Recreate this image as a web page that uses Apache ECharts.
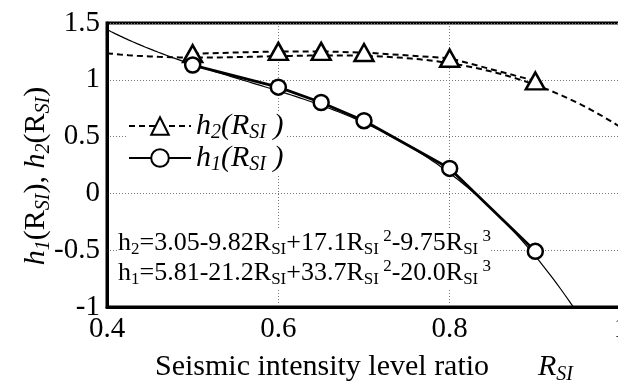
<!DOCTYPE html>
<html>
<head>
<meta charset="utf-8">
<script src="https://cdn.jsdelivr.net/npm/echarts@6/dist/echarts.min.js"></script>
<style>
  html, body { margin: 0; padding: 0; background: #fff; }
  #chart { width: 618px; height: 385px; }
</style>
</head>
<body>
<div id="chart"></div>
<script>
// Measured ratios and the two response functions
const ratios = [0.5, 0.6, 0.65, 0.7, 0.8, 0.9];
const h2Values = [1.23, 1.25, 1.25, 1.24, 1.19, 0.99];
const h1Values = [1.13, 0.935, 0.80, 0.64, 0.22, -0.51];

// Cubic fits (constant, R, R^2, R^3), as printed on the chart
const h2Coef = [3.05, -9.82, 17.1, -9.75];
const h1Coef = [5.81, -21.2, 33.7, -20.0];

// Axis ranges
const xRange = [0.4, 1.0];
const yRange = [-1, 1.5];

const serif = '"Liberation Serif", "Times New Roman", serif';

function cubic(c, r) { return c[0] + c[1] * r + c[2] * r * r + c[3] * r * r * r; }
function fitLine(c) {
  const pts = [];
  for (let i = 0; i <= 120; i++) {
    const r = xRange[0] + (xRange[1] - xRange[0]) * i / 120;
    pts.push([r, cubic(c, r)]);
  }
  return pts;
}
function pairs(xs, ys) { return xs.map((x, i) => [x, ys[i]]); }

const chart = echarts.init(document.getElementById('chart'), null, { renderer: 'canvas' });

const legendRich = {
  it: { fontFamily: serif, fontStyle: 'italic', fontSize: 30, lineHeight: 34, verticalAlign: 'middle', color: '#000' },
  sub: { fontFamily: serif, fontStyle: 'italic', fontSize: 20, lineHeight: 22, verticalAlign: 'bottom', color: '#000' }
};

const eqRich = {
  t: { fontFamily: serif, fontSize: 26, lineHeight: 30, verticalAlign: 'middle', color: '#000' },
  sub: { fontFamily: serif, fontSize: 17, lineHeight: 17, verticalAlign: 'bottom', color: '#000' },
  sup: { fontFamily: serif, fontSize: 17, lineHeight: 17, verticalAlign: 'top', color: '#000' }
};

const nameRich = {
  it: { fontFamily: serif, fontStyle: 'italic', fontSize: 30, lineHeight: 36, verticalAlign: 'middle', color: '#000' },
  rm: { fontFamily: serif, fontSize: 30, lineHeight: 36, verticalAlign: 'middle', color: '#000' },
  sub: { fontFamily: serif, fontStyle: 'italic', fontSize: 20, lineHeight: 22, verticalAlign: 'bottom', color: '#000' }
};

const option = {
  animation: false,
  backgroundColor: '#fff',
  grid: {
    left: 107, top: 23, width: 514, height: 284,
    outerBoundsMode: 'none', containLabel: false,
    show: true, borderColor: '#000', borderWidth: 3, backgroundColor: 'transparent'
  },
  xAxis: {
    type: 'value', min: xRange[0], max: xRange[1], interval: 0.2,
    axisLine: { show: true, onZero: false, lineStyle: { color: '#000', width: 3 } },
    axisTick: { show: false },
    axisLabel: { color: '#000', fontFamily: serif, fontSize: 29, margin: 8, showMaxLabel: true },
    splitLine: { show: true, lineStyle: { color: '#777', width: 1, type: [1, 2] } }
  },
  yAxis: {
    type: 'value', min: yRange[0], max: yRange[1], interval: 0.5,
    axisLine: { show: true, onZero: false, lineStyle: { color: '#000', width: 3 } },
    axisTick: { show: false },
    axisLabel: { color: '#000', fontFamily: serif, fontSize: 29, margin: 7 },
    splitLine: { show: true, lineStyle: { color: '#777', width: 1, type: [1, 2] } }
  },
  legend: {
    orient: 'vertical', left: 126, top: 111,
    itemWidth: 62, itemHeight: 22, itemGap: 0, padding: [0, 2, 0, 2],
    backgroundColor: '#fff',
    data: ['h2', 'h1'],
    formatter: name => `{it|h}{sub|${name.slice(1)}}{it|(R}{sub|SI}{it| )}`,
    textStyle: { rich: legendRich, padding: [0, 0, 0, 0] }
  },
  series: [
    {
      name: 'h2fit', type: 'line', data: fitLine(h2Coef), showSymbol: false, silent: true,
      lineStyle: { color: '#000', width: 2, type: [6, 4] }, z: 2
    },
    {
      name: 'h1fit', type: 'line', data: fitLine(h1Coef), showSymbol: false, silent: true,
      lineStyle: { color: '#000', width: 1.2 }, z: 2
    },
    {
      name: 'h2', type: 'line', data: pairs(ratios, h2Values),
      symbol: 'triangle', symbolSize: [19, 17],
      itemStyle: { color: '#fff', borderColor: '#000', borderWidth: 2.5 },
      lineStyle: { color: '#000', width: 2, type: [6, 4] }, z: 3
    },
    {
      name: 'h1', type: 'line', data: pairs(ratios, h1Values),
      symbol: 'circle', symbolSize: 15,
      itemStyle: { color: '#fff', borderColor: '#000', borderWidth: 2.5 },
      lineStyle: { color: '#000', width: 2.8 }, z: 3
    }
  ],
  graphic: [
    {
      type: 'text', left: 118, top: 228, z: 10,
      style: {
        text: '{t|h}{sub|2}{t|=3.05-9.82R}{sub|SI}{t|+17.1R}{sub|SI}{sup| 2}{t|-9.75R}{sub|SI}{sup| 3}\n' +
              '{t|h}{sub|1}{t|=5.81-21.2R}{sub|SI}{t|+33.7R}{sub|SI}{sup| 2}{t|-20.0R}{sub|SI}{sup| 3}',
        rich: eqRich, backgroundColor: '#fff'
      }
    },
    {
      type: 'text', x: 36, y: 176, rotation: Math.PI / 2, z: 10,
      style: {
        text: '{it|h}{sub|1}{rm|(R}{sub|SI}{rm|), }{it|h}{sub|2}{rm|(R}{sub|SI}{rm|)}',
        rich: nameRich, align: 'center', verticalAlign: 'middle'
      }
    },
    {
      type: 'text', x: 155, y: 367, z: 10,
      style: {
        text: 'Seismic intensity level ratio',
        fontFamily: serif, fontSize: 30, fill: '#000', align: 'left', verticalAlign: 'middle'
      }
    },
    {
      type: 'text', x: 538, y: 367, z: 10,
      style: {
        text: '{it|R}{sub|SI}',
        rich: nameRich, align: 'left', verticalAlign: 'middle'
      }
    }
  ]
};

chart.setOption(option);
</script>
</body>
</html>
